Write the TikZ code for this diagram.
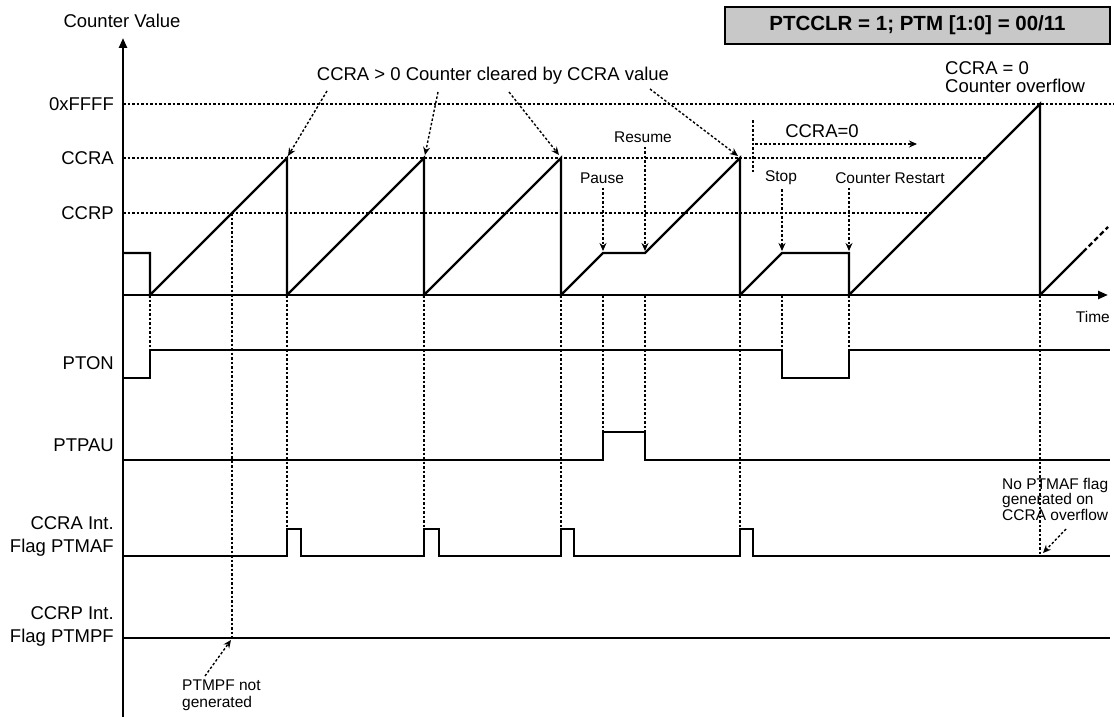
\documentclass[tikz,border=0pt]{standalone}
\usepackage{fontspec}
\setmainfont{Liberation Sans}
\usetikzlibrary{arrows.meta}
\definecolor{titlegray}{RGB}{200,200,200}

\begin{document}
\begin{tikzpicture}[x=1pt, y=-1pt,
    wave/.style={line width=2.4pt},
    sig/.style={line width=1.8pt},
    guide/.style={line width=1.4pt, dash pattern=on 2.5pt off 2pt},
    hint/.style={guide, -{Stealth[length=8pt,width=7pt]}},
    axis/.style={wave, -{Triangle[length=10pt,width=8pt]}},
    lbl/.style={font=\fontsize{18.5}{23}\selectfont, inner sep=0pt},
    note/.style={font=\fontsize{15.5}{16.5}\selectfont, inner sep=0pt}]

  \useasboundingbox (0,0) rectangle (1114,717);

  \newcommand\Base{295};
  \newcommand\Hold{253};
  \newcommand\Peak{158};
  \newcommand\Full{104};

  %% axes
  \draw[axis] (123,717) -- (123,38);
  \draw[axis] (123,\Base) -- (1108,\Base);
  \node[lbl] (cv) at (122,21) {Counter Value};
  \node[note, anchor=east] (time) at (1110,317) {Time};

  %% levels
  \node[lbl, anchor=east] (lfull) at (114,\Full) {0xFFFF};
  \node[lbl, anchor=east] (lccra) at (114,\Peak) {CCRA};
  \node[lbl, anchor=east] (lccrp) at (114,213) {CCRP};
  \draw[guide] (123,\Full) -- (1114,\Full);
  \draw[guide] (123,\Peak) -- (987,\Peak);
  \draw[guide] (123,213) -- (931,213);

  %% counter
  \draw[wave] (123,\Hold) -- (150,\Hold) -- (150,\Base)
    -- (287,\Peak) -- (287,\Base) -- (424,\Peak) -- (424,\Base)
    -- (561,\Peak) -- (561,\Base) -- (603,\Hold) -- (645,\Hold)
    -- (740,\Peak) -- (740,\Base) -- (782,\Hold) -- (849,\Hold)
    -- (849,\Base) -- (1040,\Full) -- (1040,\Base) -- (1083,252);
  \draw[wave, dash pattern=on 5pt off 3pt] (1083,252) -- (1108,227);

  %% signals
  \node[lbl, anchor=east] (lon) at (114,363) {PTON};
  \node[lbl, anchor=east] (lpau) at (114,445) {PTPAU};
  \node[lbl, anchor=east, align=right] (lmaf) at (114,536) {CCRA Int.\\Flag PTMAF};
  \node[lbl, anchor=east, align=right] (lmpf) at (114,626) {CCRP Int.\\Flag PTMPF};

  \draw[sig] (123,378) -- (150,378) -- (150,350) -- (782,350) -- (782,378)
    -- (849,378) -- (849,350) -- (1110,350); %% PTON
  \draw[sig] (123,460) -- (603,460) -- (603,432) -- (645,432) -- (645,460)
    -- (1110,460); %% PTPAU
  \draw[sig] (123,556) -- (287,556) -- (287,529) -- (301,529) -- (301,556)
    -- (424,556) -- (424,529) -- (439,529) -- (439,556)
    -- (561,556) -- (561,529) -- (574,529) -- (574,556)
    -- (740,556) -- (740,529) -- (753,529) -- (753,556) -- (1110,556); %% PTMAF
  \draw[sig] (123,638) -- (1110,638); %% PTMPF

  %% event lines
  \foreach \t/\a/\b in {150/\Base/350, 232/213/638, 287/\Base/529,
      424/\Base/529, 561/\Base/529, 603/\Base/432, 645/\Base/432,
      740/\Base/529, 782/\Base/350, 849/\Base/350, 1040/\Base/556}
    \draw[guide] (\t,\a) -- (\t,\b);

  %% cleared by CCRA
  \node[lbl] (clr) at (493,76) {CCRA > 0 Counter cleared by CCRA value};
  \coordinate (c1) at (327,91);
  \coordinate (c2) at (438,92);
  \coordinate (c3) at (509,92);
  \coordinate (c4) at (650,89);
  \coordinate (p1) at (288,156);
  \coordinate (p2) at (425,155);
  \coordinate (p3) at (559,155);
  \coordinate (p4) at (738,156);
  \foreach \i in {1,...,4}
    \draw[hint] (c\i) -- (p\i);

  %% pause / resume / stop / restart
  \node[note] (pause) at (602,178) {Pause};
  \node[note] (resume) at (643,137) {Resume};
  \node[note] (stop) at (781,178) {Stop};
  \node[note] (restart) at (890,178) {Counter Restart};
  \coordinate (hp) at (603,251);
  \coordinate (hr) at (645,251);
  \coordinate (hs) at (782,251);
  \coordinate (hc) at (849,251);
  \draw[hint] (pause.south -| hp) ++(0,4) -- (hp);
  \draw[hint] (resume.south -| hr) ++(0,4) -- (hr);
  \draw[hint] (stop.south -| hs) ++(0,4) -- (hs);
  \draw[hint] (restart.south -| hc) ++(0,4) -- (hc);

  %% CCRA = 0
  \node[lbl] (zero) at (822,131) {CCRA=0};
  \draw[guide] (753,120) -- (753,172);
  \coordinate (z0) at (755,144);
  \coordinate (z1) at (917,144);
  \draw[hint] (z0) -- (z1);
  \node[lbl, anchor=west, align=left, font=\fontsize{18.5}{18.5}\selectfont]
    (ovf) at (945,77) {CCRA = 0\\Counter overflow};

  %% flags not generated
  \node[note, anchor=west, align=left, font=\fontsize{15.5}{17}\selectfont]
    (nompf) at (182,695) {PTMPF not\\generated};
  \coordinate (m0) at (205,676);
  \coordinate (m1) at (231,640);
  \draw[hint] (m0) -- (m1);
  \node[note, anchor=west, align=left, font=\fontsize{15.5}{15.5}\selectfont]
    (nomaf) at (1002,499) {No PTMAF flag\\generated on\\CCRA overflow};
  \coordinate (f0) at (1066,529);
  \coordinate (f1) at (1043,553);
  \draw[hint] (f0) -- (f1);

  %% mode
  \node[draw, fill=titlegray, line width=1.6pt, minimum width=385pt,
    minimum height=37pt, inner sep=0pt,
    font=\bfseries\fontsize{20.5}{22}\selectfont] (mode) at (917.5,25.5)
    {PTCCLR = 1; PTM [1:0] = 00/11};
\end{tikzpicture}
\end{document}
